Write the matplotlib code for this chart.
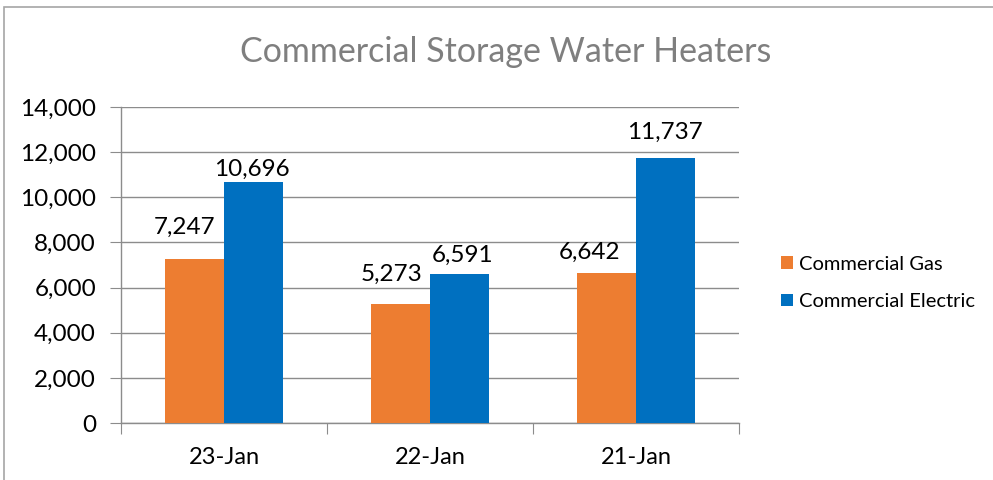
import matplotlib.pyplot as plt
import numpy as np

plt.rcParams['font.family'] = ['Lato', 'DejaVu Sans']

categories = ['23-Jan', '22-Jan', '21-Jan']
gas = [7247, 5273, 6642]
electric = [10696, 6591, 11737]

orange = '#ED7D31'
blue = '#0070C0'
grey = '#8C8C8C'

fig = plt.figure(figsize=(9.93, 4.8), dpi=100)
ax = fig.add_axes([121 / 993, 1 - 423 / 480, (739 - 121) / 993, (423 - 107) / 480])

x = np.arange(len(categories))
w = 0.286
b1 = ax.bar(x - w / 2, gas, w, color=orange, label='Commercial Gas', zorder=3)
b2 = ax.bar(x + w / 2, electric, w, color=blue, label='Commercial Electric', zorder=3)

# label offsets (pixels) as placed in the original chart
gas_off = [(-10, 26), (-9, 23), (-17, 14)]
ele_off = [(-2, 6), (3, 12), (-1, 19)]
for bars, vals, offs in [(b1, gas, gas_off), (b2, electric, ele_off)]:
    for r, v, (dx, dy) in zip(bars, vals, offs):
        ax.annotate(f'{v:,}', (r.get_x() + r.get_width() / 2, v),
                    xytext=(dx * 0.72, dy * 0.72), textcoords='offset points',
                    ha='center', va='baseline', fontsize=17.5, color='black')

ax.set_xlim(-0.5, 2.5)
ax.set_ylim(0, 14000)
ax.set_yticks(range(0, 14001, 2000))
ax.set_yticklabels([f'{v:,}' for v in range(0, 14001, 2000)], fontsize=17.5)
ax.yaxis.grid(True, color=grey, linewidth=1, zorder=0)

ax.set_xticks([-0.5, 0.5, 1.5, 2.5])
ax.set_xticklabels([])
ax.set_xticks(x, minor=True)
ax.set_xticklabels(categories, minor=True, fontsize=17)
ax.tick_params(axis='x', which='major', length=8, color=grey, direction='out')
ax.tick_params(axis='x', which='minor', length=0, pad=17)
ax.tick_params(axis='y', length=8, color=grey, pad=10)

for s in ['top', 'right']:
    ax.spines[s].set_visible(False)
for s in ['left', 'bottom']:
    ax.spines[s].set_color(grey)
    ax.spines[s].set_linewidth(1)

fig.text(506 / 993, 1 - 52 / 480, 'Commercial Storage Water Heaters',
         ha='center', va='center', fontsize=24.5, color='#7F7F7F')

fig.legend(handles=[b1, b2], loc='center left', bbox_to_anchor=(763 / 993, 1 - 283 / 480),
           frameon=False, fontsize=14.5, handlelength=0.6, handleheight=0.6,
           handletextpad=0.3, labelspacing=1.0)

# outer chart border (top and left visible)
border = plt.Rectangle((4 / 993, -0.1), 2, 1 - 7 / 480 + 0.1, transform=fig.transFigure,
                       fill=False, edgecolor='#A6A6A6', linewidth=1.2)
fig.add_artist(border)

fig.savefig('out.png', dpi=100, facecolor='white')
